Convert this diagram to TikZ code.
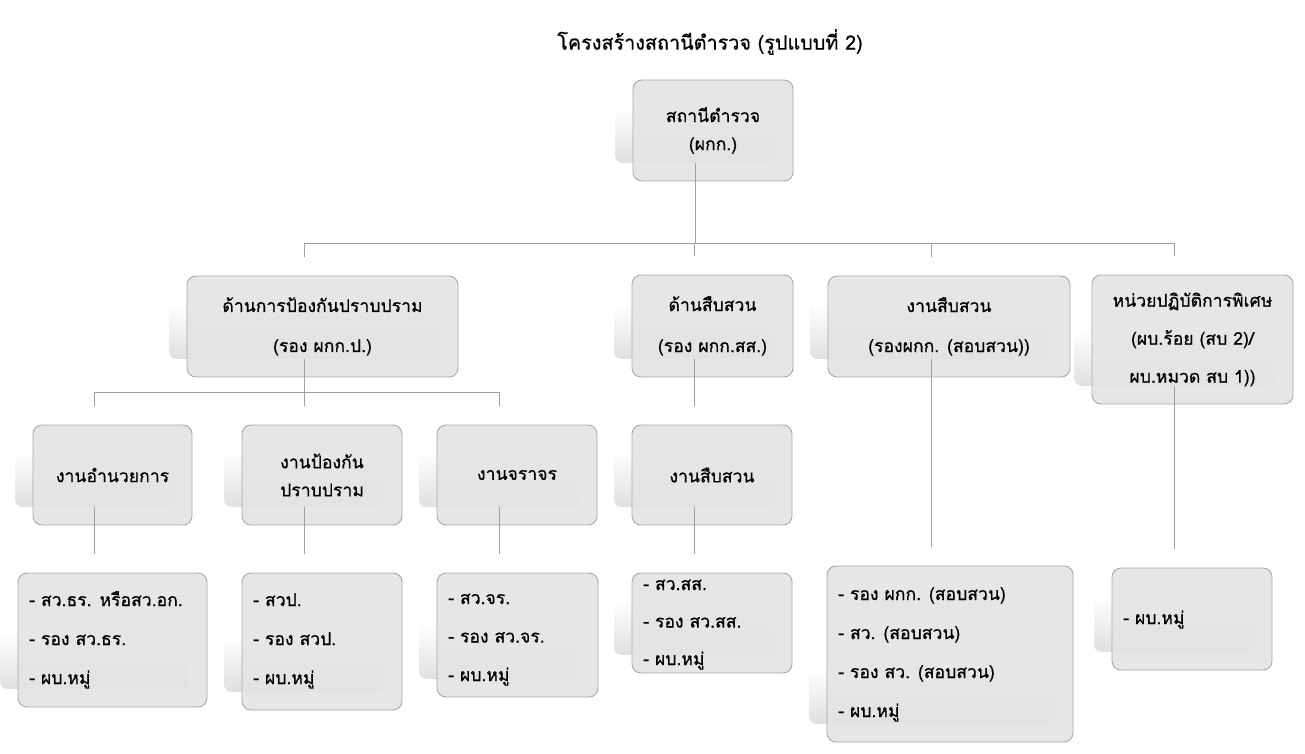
\documentclass[tikz,border=0pt]{standalone}
\usepackage{fontspec}
\setmainfont{Loma}[Script=Thai, FakeBold=0.6]
\usepackage{tikz}
\usetikzlibrary{calc}
\definecolor{boxfill}{HTML}{E4E4E4}
\definecolor{boxline}{HTML}{A8A8A8}
\definecolor{ghostgray}{HTML}{E0E0E0}
\definecolor{wire}{HTML}{A0A0A0}
\definecolor{ink}{HTML}{000000}
\tikzset{
  unit/.style={draw=boxline, fill=boxfill, line width=0.9pt, rounded corners=9pt, inner sep=0pt, fill opacity=0.9, text opacity=1, text=ink, align=center},
  ghost/.style={rounded corners=7pt, top color=white, bottom color=ghostgray, inner sep=0pt, anchor=south west, minimum height=56pt},
  conn/.style={draw=wire, line width=1pt},
  item/.style={text=ink, anchor=west, inner sep=0pt, text height=12pt, text depth=4pt, font=\fontsize{17.6}{20}\selectfont},
  head/.style={text=ink, font=\fontsize{19.8}{22}\selectfont},
}
\begin{document}
\begin{tikzpicture}[x=1pt, y=-1pt]
  \fill[white] (0,0) rectangle (1305,754);
  \useasboundingbox (0,0) rectangle (1305,754);
  \node[head] (title) at (710,42) {โครงสร้างสถานีตำรวจ (รูปแบบที่ 2)};
  \foreach \n/\xa/\ya/\xb/\yb/\t/\ls in {
      top/633/80/793/181/{สถานีตำรวจ\\(ผกก.)}/28,
      p/187/276/458/377/{ด้านการป้องกันปราบปราม\\(รอง ผกก.ป.)}/40,
      s/632/275/793/377/{ด้านสืบสวน\\(รอง ผกก.สส.)}/41,
      i/828/276/1070/377/{งานสืบสวน\\(รองผกก. (สอบสวน))}/40,
      u/1092/275/1293/404/{หน่วยปฏิบัติการพิเศษ\\(ผบ.ร้อย (สบ 2)/\\ผบ.หมวด สบ 1))}/38,
      a/33/425/192/525/{งานอำนวยการ}/28,
      b/242/425/402/525/{งานป้องกัน\\ปราบปราม}/28,
      c/437/425/597/525/{งานจราจร}/28,
      g/632/425/792/525/{งานสืบสวน}/28,
      la/18/573/207/707/{}/20,
      lb/242/573/402/710/{}/20,
      lc/437/573/598/697/{}/20,
      lg/632/573/792/673/{}/20,
      li/827/566/1073/742/{}/20,
      lu/1112/568/1272/670/{}/20}{
    \pgfmathsetmacro\w{\xb-\xa}
    \pgfmathsetmacro\h{\yb-\ya}
    \node[ghost, minimum width=\w pt] (\n-s) at (\xa-18,\yb-18) {};
    \node[unit, minimum width=\w pt, minimum height=\h pt, font=\fontsize{17.6}{\ls}\selectfont]
      (\n) at ({(\xa+\xb)/2},{(\ya+\yb)/2}) {\t};
  }
  \foreach \n/\x/\y/\d/\items in {
      la/29/602/39/{สว.ธร. หรือสว.อก.,รอง สว.ธร.,ผบ.หมู่},
      lb/253/602/39/{สวป.,รอง สวป.,ผบ.หมู่},
      lc/448/600/38.5/{สว.จร.,รอง สว.จร.,ผบ.หมู่},
      lg/643/586/37.5/{สว.สส.,รอง สว.สส.,ผบ.หมู่},
      li/838/596/39/{รอง ผกก. (สอบสวน),สว. (สอบสวน),รอง สว. (สอบสวน),ผบ.หมู่},
      lu/1123/620/39/{ผบ.หมู่}}{
    \foreach \t [count=\k] in \items
      \node[item] (\n-\k) at (\x,\y+\d*\k-\d) {- \t};
  }
  \coordinate (h1) at (0,243);
  \coordinate (h2) at (0,392);
  \coordinate (bus1) at (top-s.south |- h1);
  \coordinate (bus2) at (p-s.south |- h2);
  \draw[conn] (top-s.south) -- (bus1);
  \foreach \c in {p,s,i,u}
    \draw[conn] (bus1) -| ($(\c-s.center |- \c.north)+(0,-19)$);
  \draw[conn] (p-s.south) -- (bus2);
  \foreach \c in {a,b,c}
    \draw[conn] (bus2) -| ($(\c-s.center |- \c.north)+(0,-19)$);
  \foreach \f/\c in {s/g,i/li,u/lu,a/la,b/lb,c/lc,g/lg}
    \draw[conn] (\f-s.south) -- ($(\f-s.south |- \c.north)+(0,-19)$);
\end{tikzpicture}
\end{document}
